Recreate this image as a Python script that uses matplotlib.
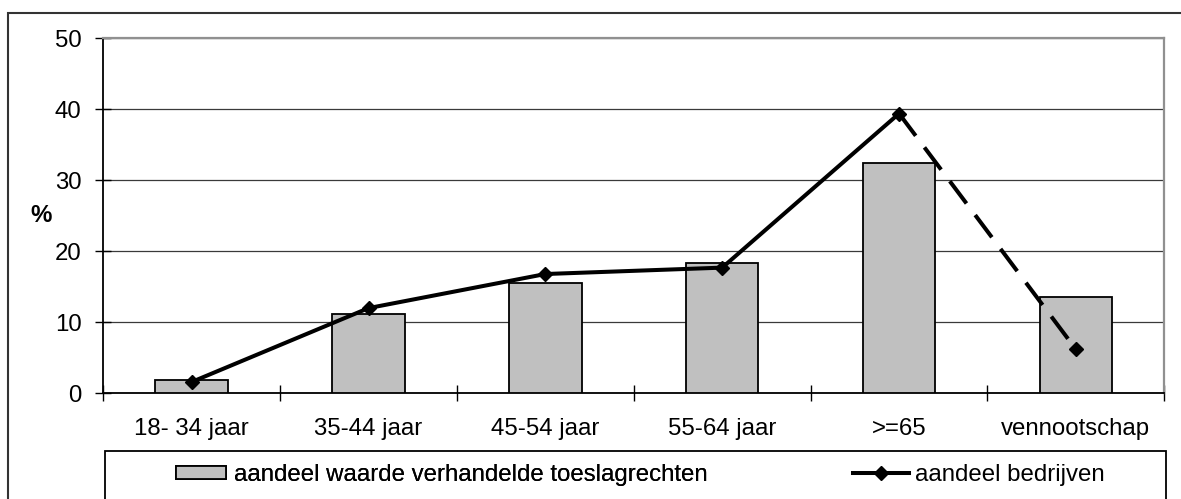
import matplotlib
matplotlib.use("Agg")
import matplotlib.pyplot as plt
from matplotlib.patches import Rectangle, Patch
from matplotlib.lines import Line2D
import numpy as np

categories = ["18- 34 jaar", "35-44 jaar", "45-54 jaar", "55-64 jaar", ">=65", "vennootschap"]
waarde = [1.9, 11.1, 15.5, 18.4, 32.4, 13.6]
bedrijven = [1.6, 12.0, 16.8, 17.7, 39.4, 6.2]
y_ticks = [0, 10, 20, 30, 40, 50]
legend_labels = ["aandeel waarde verhandelde toeslagrechten", "aandeel bedrijven"]

plt.rcParams['font.family'] = ['Liberation Sans', 'DejaVu Sans']
FS = 17.3

W, H = 1181, 499
fig = plt.figure(figsize=(W / 100, H / 100), dpi=100)
ax = fig.add_axes([103.3 / W, 1 - 393.3 / H, (1164.3 - 103.3) / W, (393.3 - 38.3) / H])

x = np.arange(len(categories))
ax.bar(x, waarde, width=0.41, color="#c0c0c0", edgecolor="black", linewidth=1.3, zorder=3)

# solid part (first five points) and dashed last segment
ax.plot(x[:5], bedrijven[:5], color="black", lw=2.9, zorder=4, solid_capstyle="butt")
ax.plot(x[4:], bedrijven[4:], color="black", lw=2.9, zorder=4, linestyle=(0, (6.9, 3.6)))
ax.plot(x, bedrijven, linestyle="none", marker="D", color="black", markersize=7.5, zorder=5)

ax.set_xlim(-0.5, len(categories) - 0.5)
ax.set_ylim(0, 50)
ax.set_yticks(y_ticks)
ax.set_yticklabels([str(v) for v in y_ticks], fontsize=FS)
ax.set_xticks(x)
ax.set_xticklabels(categories, fontsize=FS)
ax.set_xticks(np.arange(-0.5, len(categories)), minor=True)
ax.tick_params(axis="x", which="major", length=0, pad=18)
ax.tick_params(axis="x", which="minor", direction="inout", length=11.5, width=1, color="black")
ax.tick_params(axis="y", direction="inout", length=11.5, width=1, pad=10)

ax.yaxis.grid(True, color="#3a3a3a", linewidth=0.9, zorder=0)
ax.set_axisbelow(True)
ax.spines["left"].set_color("black")
ax.spines["left"].set_linewidth(1.3)
ax.spines["bottom"].set_color("black")
ax.spines["bottom"].set_linewidth(1.3)
ax.spines["top"].set_color("#909090")
ax.spines["top"].set_linewidth(1.6)
ax.spines["right"].set_color("#909090")
ax.spines["right"].set_linewidth(1.6)

fig.text(41 / W, 1 - 216 / H, "%", fontsize=FS, fontweight="bold", ha="center", va="center")

# outer chart border (clipped by figure edge at right/bottom)
fig.patches.append(Rectangle((8 / W, -0.1), 1.2, 1 - 13 / H + 0.1, transform=fig.transFigure,
                             fill=False, edgecolor="#333333", linewidth=1.5))

# legend box
fig.patches.append(Rectangle((105 / W, -0.1), (1166 - 105) / W, 1 - 451 / H + 0.1,
                             transform=fig.transFigure, fill=False, edgecolor="black", linewidth=1.3))

leg1 = fig.legend(handles=[Patch(facecolor="#c0c0c0", edgecolor="black", linewidth=1.3)],
                  labels=[legend_labels[0]], loc="center left",
                  bbox_to_anchor=(176 / W, 1 - 475 / H), frameon=False, fontsize=FS,
                  borderpad=0, borderaxespad=0, handlelength=2.1, handleheight=0.5,
                  handletextpad=0.33)
fig.add_artist(leg1)
leg2 = fig.legend(handles=[Line2D([], [], color="black", lw=2.9, marker="D", markersize=7.5)],
                  labels=[legend_labels[1]], loc="center left",
                  bbox_to_anchor=(853 / W, 1 - 475 / H), frameon=False, fontsize=FS,
                  borderpad=0, borderaxespad=0, handlelength=2.35, handletextpad=0.25)

fig.savefig("out.png", dpi=100)
